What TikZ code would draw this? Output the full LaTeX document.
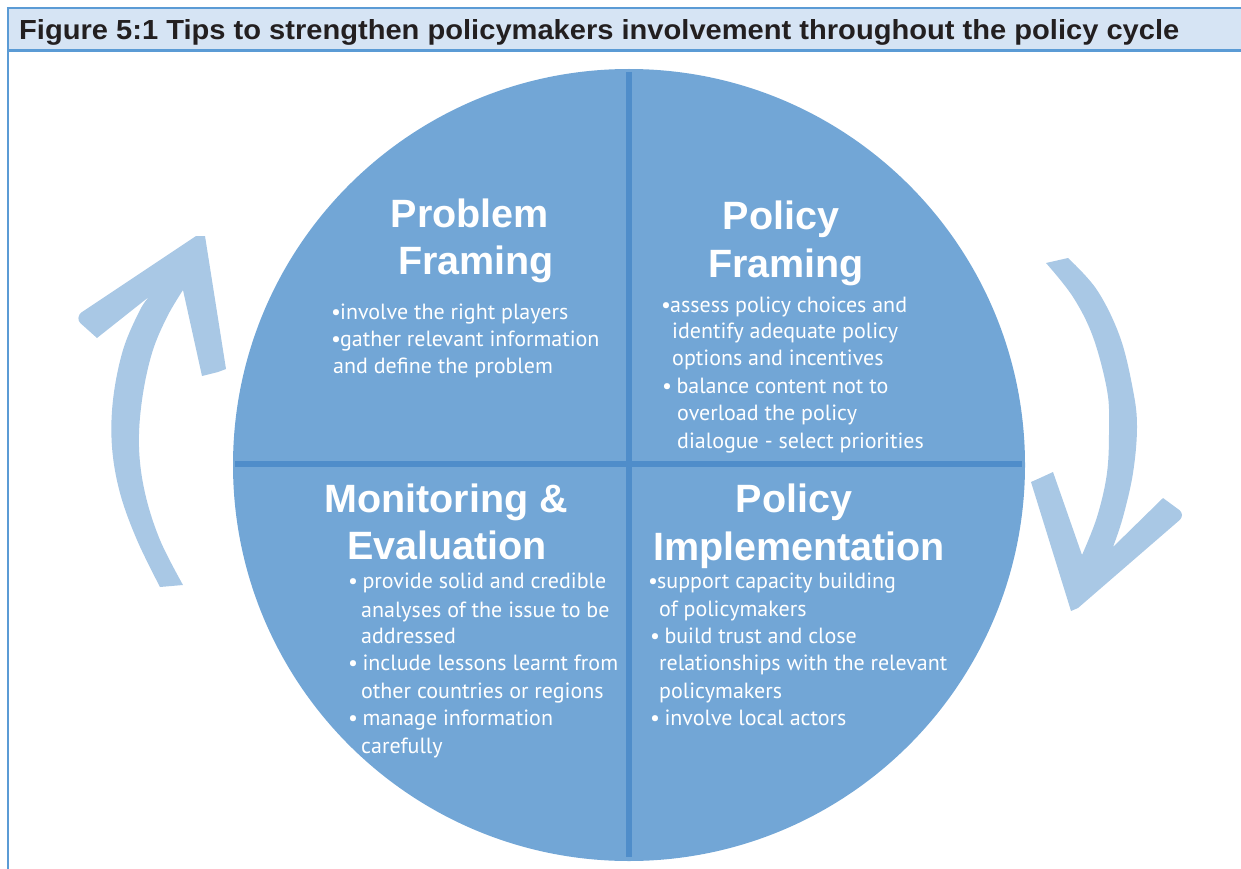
\documentclass[tikz,border=0pt]{standalone}
\usepackage{fontspec}
\usepackage{graphicx}
\newfontfamily\bodyfont{PT Sans}
\newfontfamily\headfont{Liberation Sans}
\definecolor{headfill}{HTML}{D6E4F4}
\definecolor{headline}{HTML}{5B9BD5}
\definecolor{circfill}{HTML}{72A6D6}
\definecolor{divline}{HTML}{4F8DCA}
\definecolor{arrowc}{HTML}{A9C8E5}
\definecolor{headtext}{HTML}{231F20}
\newcommand{\tbul}{•\kern-1pt}
\newcommand{\sbul}{•\kern-1.5pt\ }
\tikzset{
  titletext/.style={font=\headfont\bfseries\fontsize{39.5}{40}\selectfont, text=white, anchor=base, inner sep=0pt},
  bodytext/.style={font=\bodyfont\fontsize{22}{24}\selectfont, text=white, anchor=base west, inner sep=0pt},
  divider/.style={draw=divline, line width=6pt},
  frameline/.style={draw=headline, line width=2.5pt}
}
\begin{document}
\begin{tikzpicture}[x=1pt,y=-1pt]
\useasboundingbox (0,0) rectangle (1241,869);
% header
\fill[headfill] (8,8) rectangle (1241,50);
\draw[frameline] (6.75,8) -- (1241,8);
\draw[frameline] (8,50.5) -- (1241,50.5);
\draw[frameline] (8,8) -- (8,869);
\node[anchor=base west, inner sep=0pt, text=headtext, font=\headfont\bfseries\fontsize{27}{29}\selectfont] (title) at (19,39.5)
  {\resizebox{1160pt}{20pt}{Figure 5:1 Tips to strengthen policymakers involvement throughout the policy cycle}};
% circle
\fill[circfill] (629,465) circle (396);
\coordinate (vt) at (629,72);
\coordinate (vb) at (629,857);
\coordinate (hl) at (235,464);
\coordinate (hr) at (1022,464);
\draw[divider] (vt) -- (vb);
\draw[divider] (hl) -- (hr);
% left arrow
\fill[arrowc] plot[smooth, tension=0.6] coordinates {(160,587) (137,540) (120,493) (112,447) (113,400) (123,350) (140,310) (150,296)}
  -- (97,338) [rounded corners=3pt] -- (78,321) -- (79,314) [sharp corners] -- (196,236) -- (205,236) -- (226,369) -- (218,372) -- (202,376) -- (183,290)
  -- plot[smooth, tension=0.6] coordinates {(183,290) (167,317) (152,353) (142,400) (139,447) (145,493) (160,540) (183,585)}
  -- cycle;
% right arrow
\fill[arrowc] plot[smooth, tension=0.6] coordinates {(1068,258) (1097,290) (1120,337) (1133,390) (1137,427) (1133,473) (1123,517) (1113,547)}
  -- (1163,498) [rounded corners=3pt] -- (1182,512) -- (1182,518) [sharp corners] -- (1078,608) -- (1071,611) -- (1031,482) -- (1040,478) -- (1053,472) -- (1082,555)
  -- plot[smooth, tension=0.6] coordinates {(1082,555) (1097,517) (1107,473) (1109,427) (1107,390) (1093,337) (1073,297) (1046,263)}
  -- cycle;
% titles
\node[titletext] (pt1) at (470,227) {Problem};
\node[titletext] (pt2) at (476,274) {Framing};
\node[titletext] (ft1) at (781,229) {Policy};
\node[titletext] (ft2) at (786,277) {Framing};
\node[titletext] (mt1) at (446,512) {Monitoring \&};
\node[titletext] (mt2) at (447,559) {Evaluation};
\node[titletext] (it1) at (794,512) {Policy};
\node[titletext] (it2) at (799,560) {Implementation};
% problem framing body
\node[bodytext] (pb1) at (331,319) {\tbul involve the right players};
\node[bodytext] (pb2) at (331,346) {\tbul gather relevant information};
\node[bodytext] (pb3) at (333,373) {and define the problem};
% policy framing body
\node[bodytext] (fb1) at (661,312) {\tbul assess policy choices and};
\node[bodytext] (fb2) at (672,338) {identify adequate policy};
\node[bodytext] (fb3) at (672,365) {options and incentives};
\node[bodytext] (fb4) at (662,393) {\sbul balance content not to};
\node[bodytext] (fb5) at (677,420) {overload the policy};
\node[bodytext] (fb6) at (677,448) {dialogue - select priorities};
% monitoring body
\node[bodytext] (mb1) at (348,588) {\sbul provide solid and credible};
\node[bodytext] (mb2) at (361,617) {analyses of the issue to be};
\node[bodytext] (mb3) at (361,643) {addressed};
\node[bodytext] (mb4) at (348,670) {\sbul include lessons learnt from};
\node[bodytext] (mb5) at (361,698) {other countries or regions};
\node[bodytext] (mb6) at (348,725) {\sbul manage information};
\node[bodytext] (mb7) at (361,753) {carefully};
% implementation body
\node[bodytext] (ib1) at (648,588) {\tbul support capacity building};
\node[bodytext] (ib2) at (659,616) {of policymakers};
\node[bodytext] (ib3) at (650,643) {\sbul build trust and close};
\node[bodytext] (ib4) at (659,670) {relationships with the relevant};
\node[bodytext] (ib5) at (659,698) {policymakers};
\node[bodytext] (ib6) at (650,725) {\sbul involve local actors};
\end{tikzpicture}
\end{document}
